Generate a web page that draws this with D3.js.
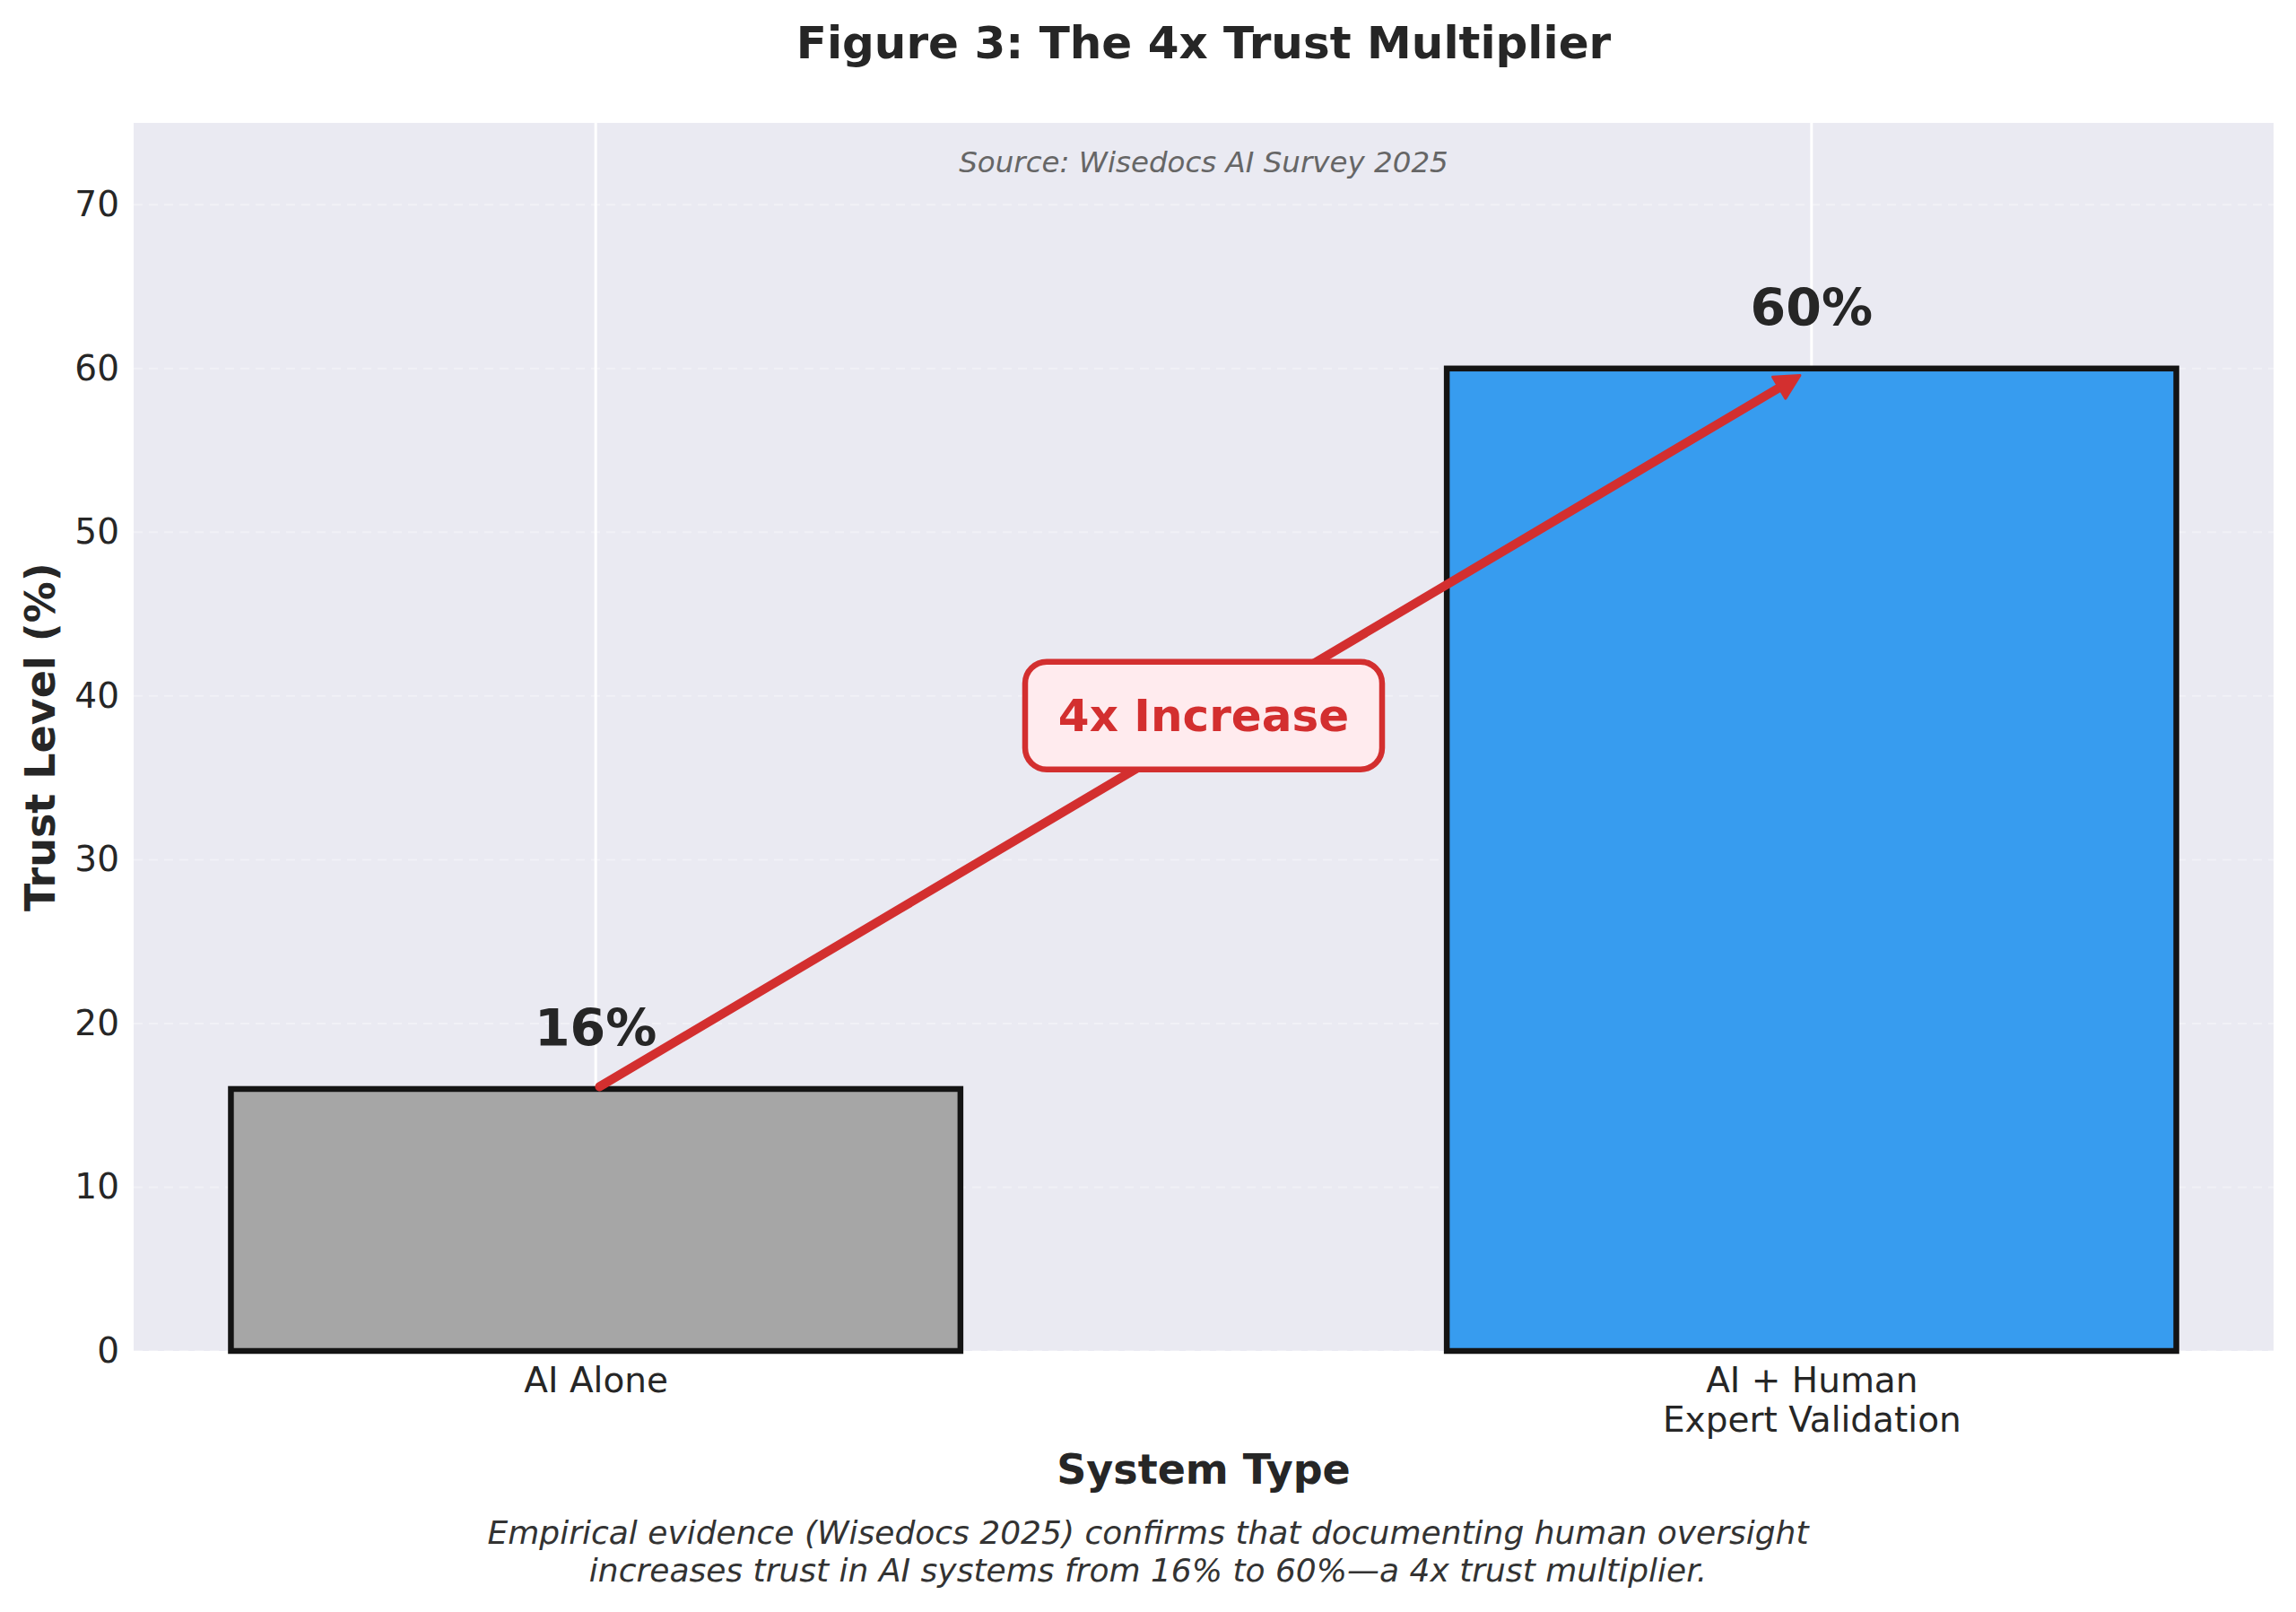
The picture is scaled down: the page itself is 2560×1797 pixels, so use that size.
<!DOCTYPE html>
<html>
<head>
<meta charset="utf-8">
<script src="https://cdn.jsdelivr.net/npm/d3@7"></script>
<style>
  html, body { margin: 0; padding: 0; background: #ffffff; }
  svg { display: block; }
  text { font-family: "DejaVu Sans", sans-serif; }
</style>
</head>
<body>
<svg id="chart" width="2560" height="1797" viewBox="0 0 2560 1797"></svg>
<script>
// ---- data ----
const categories = ["AI Alone", "AI + Human\nExpert Validation"];
const trustValues = [16, 60];
const valueLabels = ["16%", "60%"];
const barColors = ["#a6a6a6", "#379cef"];
const yTicks = [0, 10, 20, 30, 40, 50, 60, 70];
const yDomain = [0, 75];
const annotationText = "4x Increase";
const annotationPos = [0.5, 38.8];
const titleText = "Figure 3: The 4x Trust Multiplier";
const sourceText = "Source: Wisedocs AI Survey 2025";
const xLabelText = "System Type";
const yLabelText = "Trust Level (%)";
const captionLines = [
  "Empirical evidence (Wisedocs 2025) confirms that documenting human oversight",
  "increases trust in AI systems from 16% to 60%\u2014a 4x trust multiplier."
];

// ---- layout ----
const plot = { left: 149, right: 2535, top: 137, bottom: 1506 };
const svg = d3.select("#chart");

const x = d3.scaleLinear().domain([-0.38, 1.38]).range([plot.left, plot.right]);
const y = d3.scaleLinear().domain(yDomain).range([plot.bottom, plot.top]);
const barHalf = 0.3;

// background
svg.append("rect")
  .attr("x", plot.left).attr("y", plot.top)
  .attr("width", plot.right - plot.left).attr("height", plot.bottom - plot.top)
  .attr("fill", "#eaeaf2");

// horizontal dashed grid
svg.append("g").selectAll("line").data(yTicks).join("line")
  .attr("x1", plot.left).attr("x2", plot.right)
  .attr("y1", d => y(d)).attr("y2", d => y(d))
  .attr("stroke", "#ffffff").attr("stroke-opacity", 0.35)
  .attr("stroke-width", 2).attr("stroke-dasharray", "10,7");

// vertical grid at categories
svg.append("g").selectAll("line").data(categories).join("line")
  .attr("x1", (d, i) => x(i)).attr("x2", (d, i) => x(i))
  .attr("y1", plot.top).attr("y2", plot.bottom)
  .attr("stroke", "#ffffff").attr("stroke-width", 3);

// bars
svg.append("g").selectAll("rect").data(trustValues).join("rect")
  .attr("x", (d, i) => x(i - barHalf))
  .attr("y", d => y(d))
  .attr("width", (d, i) => x(i + barHalf) - x(i - barHalf))
  .attr("height", d => y(0) - y(d))
  .attr("fill", (d, i) => barColors[i])
  .attr("stroke", "#141414").attr("stroke-width", 6.5);

// arrow from bar 1 top to bar 2 top
(function () {
  const x0 = x(0), y0 = y(trustValues[0]);
  const x1 = x(1), y1 = y(trustValues[1]);
  const dx = x1 - x0, dy = y1 - y0;
  const L = Math.hypot(dx, dy);
  const ux = dx / L, uy = dy / L;
  const sx = x0 + ux * 5, sy = y0 + uy * 5;
  const tx = x1 - ux * 15, ty = y1 - uy * 15;
  const headLen = 27, headHalf = 14;
  const bx = tx - ux * headLen, by = ty - uy * headLen;
  const px = -uy, py = ux;
  const col = "#d32f2f";
  svg.append("line")
    .attr("x1", sx).attr("y1", sy).attr("x2", bx + ux * 3).attr("y2", by + uy * 3)
    .attr("stroke", col).attr("stroke-width", 10).attr("stroke-linecap", "round");
  svg.append("path")
    .attr("d", `M${tx},${ty} L${bx + px * headHalf},${by + py * headHalf} L${bx - px * headHalf},${by - py * headHalf} Z`)
    .attr("fill", col).attr("stroke", col).attr("stroke-width", 3).attr("stroke-linejoin", "round");
})();

// annotation box
(function () {
  const cx = x(annotationPos[0]), cy = y(annotationPos[1]);
  const w = 398, h = 120;
  svg.append("rect")
    .attr("x", cx - w / 2).attr("y", cy - h / 2)
    .attr("width", w).attr("height", h).attr("rx", 24).attr("ry", 24)
    .attr("fill", "#ffebee").attr("stroke", "#d32f2f").attr("stroke-width", 6.5);
  svg.append("text")
    .attr("x", cx).attr("y", cy + 17)
    .attr("text-anchor", "middle")
    .attr("font-size", 50).attr("font-weight", "bold")
    .attr("fill", "#d32f2f")
    .text(annotationText);
})();

// value labels
svg.append("g").selectAll("text").data(trustValues).join("text")
  .attr("x", (d, i) => x(i))
  .attr("y", d => y(d + 2) - 11)
  .attr("text-anchor", "middle")
  .attr("font-size", 57).attr("font-weight", "bold")
  .attr("fill", "#262626")
  .text((d, i) => valueLabels[i]);

// source note
svg.append("text")
  .attr("x", (plot.left + plot.right) / 2).attr("y", 192)
  .attr("text-anchor", "middle")
  .attr("font-size", 32.5).attr("font-style", "italic")
  .attr("fill", "#666666")
  .text(sourceText);

// y axis
const yAxis = d3.axisLeft(y).tickValues(yTicks).tickSize(0).tickPadding(16);
const gy = svg.append("g").attr("transform", `translate(${plot.left},0)`).call(yAxis);
gy.select(".domain").remove();
gy.selectAll("text")
  .attr("font-family", "DejaVu Sans, sans-serif")
  .attr("font-size", 39).attr("fill", "#262626");

// x axis
const xAxis = d3.axisBottom(x).tickValues(categories.map((d, i) => i)).tickSize(0).tickPadding(18)
  .tickFormat(i => categories[i]);
const gx = svg.append("g").attr("transform", `translate(0,${plot.bottom})`).call(xAxis);
gx.select(".domain").remove();
gx.selectAll("text")
  .attr("font-family", "DejaVu Sans, sans-serif")
  .attr("font-size", 39).attr("fill", "#262626")
  .each(function (i) {
    const t = d3.select(this);
    const lines = categories[i].split("\n");
    t.text(null);
    lines.forEach((ln, k) => {
      t.append("tspan").attr("x", 0).attr("dy", k === 0 ? "0.71em" : "44px").text(ln);
    });
  })
  .attr("dy", null);

// axis labels
svg.append("text")
  .attr("x", (plot.left + plot.right) / 2).attr("y", 1654)
  .attr("text-anchor", "middle")
  .attr("font-size", 46).attr("font-weight", "bold").attr("fill", "#262626")
  .text(xLabelText);

svg.append("text")
  .attr("transform", `translate(61,${(plot.top + plot.bottom) / 2}) rotate(-90)`)
  .attr("text-anchor", "middle")
  .attr("font-size", 46).attr("font-weight", "bold").attr("fill", "#262626")
  .text(yLabelText);

// title
svg.append("text")
  .attr("x", (plot.left + plot.right) / 2).attr("y", 65)
  .attr("text-anchor", "middle")
  .attr("font-size", 50).attr("font-weight", "bold").attr("fill", "#262626")
  .text(titleText);

// caption
svg.append("g").selectAll("text").data(captionLines).join("text")
  .attr("x", 1280).attr("y", (d, i) => 1721 + i * 42)
  .attr("text-anchor", "middle")
  .attr("font-size", 36).attr("font-style", "italic").attr("fill", "#333333")
  .text(d => d);
</script>
</body>
</html>
